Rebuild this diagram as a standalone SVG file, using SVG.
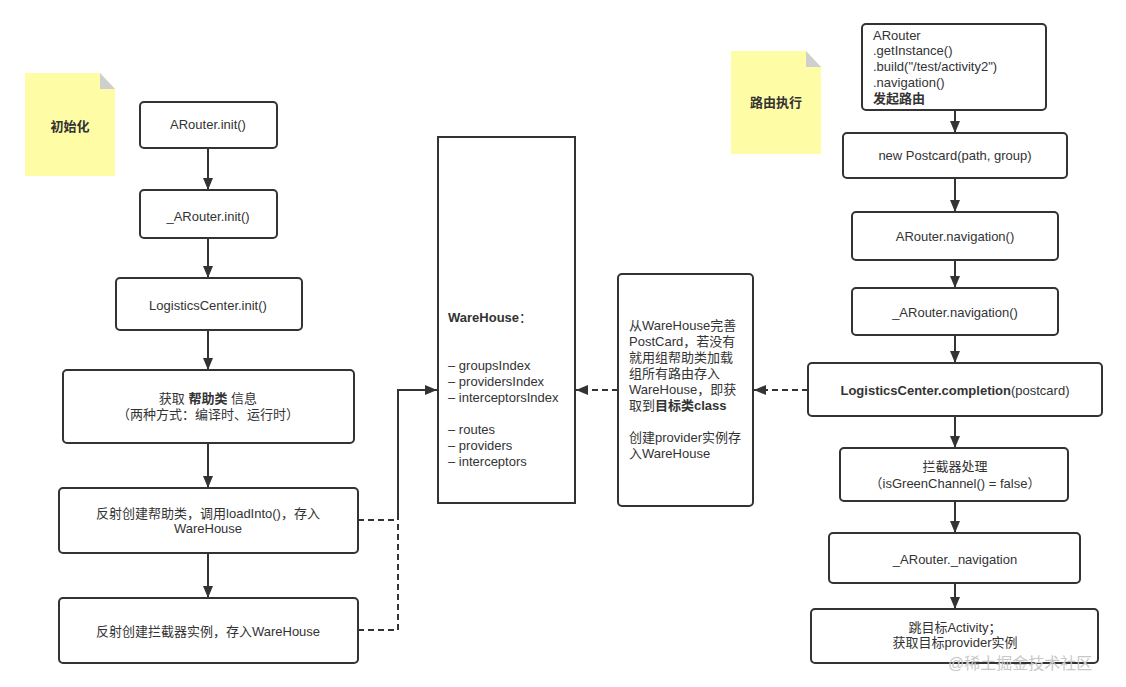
<svg xmlns="http://www.w3.org/2000/svg" width="1126" height="687" viewBox="0 0 1126 687">
<style>
  text{font-family:"Liberation Sans","Noto Sans CJK SC",sans-serif;font-size:13px;fill:#333;}
  .c{text-anchor:middle;}
  .b{font-weight:bold;}
  .box{fill:#fff;stroke:#333;stroke-width:2;}
  .note{fill:#fffca6;}
  .fold{fill:#cfcfcf;}
  .ln{fill:none;stroke:#333;stroke-width:2;}
  .dash{fill:none;stroke:#333;stroke-width:2;stroke-dasharray:6 4;}
  .wm{font-size:16px;fill:#c8c8c8;}
</style>
<defs>
  <marker id="arr" viewBox="0 0 12 12" refX="12" refY="6" markerWidth="12" markerHeight="12" markerUnits="userSpaceOnUse" orient="auto">
    <path d="M0,1 L12,6 L0,11 z" fill="#333"/>
  </marker>
</defs>
<rect width="1126" height="687" fill="#fff"/>

<g id="note-init">
  <path class="note" d="M25,73 H100 L115,89 V176 H25 z"/>
  <path class="fold" d="M100,73 L115,89 H100 z"/>
  <text class="c b" x="70" y="131">初始化</text>
</g>
<g id="note-route">
  <path class="note" d="M731,51 H806 L821,67 V154 H731 z"/>
  <path class="fold" d="M806,51 L821,67 H806 z"/>
  <text class="c b" x="776" y="107">路由执行</text>
</g>

<g id="connectors">
  <path class="ln" marker-end="url(#arr)" d="M208,148 V190"/>
  <path class="ln" marker-end="url(#arr)" d="M208,238 V278"/>
  <path class="ln" marker-end="url(#arr)" d="M208,330 V370"/>
  <path class="ln" marker-end="url(#arr)" d="M208,443 V488"/>
  <path class="ln" marker-end="url(#arr)" d="M208,553 V598"/>
  <path class="dash" d="M358,520 H398"/>
  <path class="dash" d="M358,630 H398 V520"/>
  <path class="ln" marker-end="url(#arr)" d="M398,520 V390 H437"/>
  <path class="dash" marker-end="url(#arr)" d="M618,390 H576"/>
  <path class="dash" marker-end="url(#arr)" d="M808,390 H754"/>
  <path class="ln" marker-end="url(#arr)" d="M955,110 V133"/>
  <path class="ln" marker-end="url(#arr)" d="M955,178 V212"/>
  <path class="ln" marker-end="url(#arr)" d="M955,260 V288"/>
  <path class="ln" marker-end="url(#arr)" d="M955,335 V363"/>
  <path class="ln" marker-end="url(#arr)" d="M955,416 V448"/>
  <path class="ln" marker-end="url(#arr)" d="M955,501 V533"/>
  <path class="ln" marker-end="url(#arr)" d="M955,583 V609"/>
</g>

<g id="arouter-init">
  <rect class="box" x="140" y="102" width="137" height="46" rx="4"/>
  <text class="c" x="208" y="129">ARouter.init()</text>
</g>
<g id="_arouter-init">
  <rect class="box" x="140" y="190" width="137" height="48" rx="4"/>
  <text class="c" x="208" y="221">_ARouter.init()</text>
</g>
<g id="logistics-init">
  <rect class="box" x="116" y="278" width="186" height="52" rx="4"/>
  <text class="c" x="208" y="310">LogisticsCenter.init()</text>
</g>
<g id="get-helper">
  <rect class="box" x="63" y="370" width="291" height="73" rx="4"/>
  <text class="c" x="208" y="403">获取 <tspan class="b">帮助类</tspan> 信息</text>
  <text class="c" x="208" y="419">（两种方式：编译时、运行时）</text>
</g>
<g id="reflect-helper">
  <rect class="box" x="59" y="488" width="299" height="65" rx="4"/>
  <text class="c" x="208" y="518">反射创建帮助类，调用loadInto()，存入</text>
  <text class="c" x="208" y="533">WareHouse</text>
</g>
<g id="reflect-interceptor">
  <rect class="box" x="59" y="598" width="299" height="65" rx="4"/>
  <text class="c" x="208" y="636">反射创建拦截器实例，存入WareHouse</text>
</g>

<g id="warehouse">
  <rect class="box" x="438" y="137" width="137" height="366"/>
  <text class="b" x="448" y="322">WareHouse<tspan font-weight="normal">：</tspan></text>
  <text x="448" y="370">– groupsIndex</text>
  <text x="448" y="386">– providersIndex</text>
  <text x="448" y="402">– interceptorsIndex</text>
  <text x="448" y="434">– routes</text>
  <text x="448" y="450">– providers</text>
  <text x="448" y="466">– interceptors</text>
</g>

<g id="complete-postcard">
  <rect class="box" x="618" y="274" width="135" height="232" rx="4"/>
  <text x="629" y="330">从WareHouse完善</text>
  <text x="629" y="346">PostCard，若没有</text>
  <text x="629" y="362">就用组帮助类加载</text>
  <text x="629" y="378">组所有路由存入</text>
  <text x="629" y="394">WareHouse，即获</text>
  <text x="629" y="410">取到<tspan class="b">目标类class</tspan></text>
  <text x="629" y="442">创建provider实例存</text>
  <text x="629" y="458">入WareHouse</text>
</g>

<g id="start-route">
  <rect class="box" x="862" y="24" width="184" height="86" rx="4"/>
  <text x="873" y="40">ARouter</text>
  <text x="873" y="55">.getInstance()</text>
  <text x="873" y="71">.build("/test/activity2")</text>
  <text x="873" y="87">.navigation()</text>
  <text class="b" x="873" y="103">发起路由</text>
</g>
<g id="new-postcard">
  <rect class="box" x="843" y="133" width="224" height="45" rx="4"/>
  <text class="c" x="955" y="160">new Postcard(path, group)</text>
</g>
<g id="arouter-navigation">
  <rect class="box" x="852" y="212" width="206" height="48" rx="4"/>
  <text class="c" x="955" y="241">ARouter.navigation()</text>
</g>
<g id="_arouter-navigation">
  <rect class="box" x="852" y="288" width="206" height="47" rx="4"/>
  <text class="c" x="955" y="317">_ARouter.navigation()</text>
</g>
<g id="logistics-completion">
  <rect class="box" x="808" y="363" width="294" height="53" rx="4"/>
  <text class="c" x="955" y="395"><tspan class="b">LogisticsCenter.completion</tspan>(postcard)</text>
</g>
<g id="interceptor">
  <rect class="box" x="840" y="448" width="228" height="53" rx="4"/>
  <text class="c" x="955" y="471">拦截器处理</text>
  <text class="c" x="955" y="488">（isGreenChannel() = false）</text>
</g>
<g id="_arouter-_navigation">
  <rect class="box" x="829" y="533" width="251" height="50" rx="4"/>
  <text class="c" x="955" y="564">_ARouter._navigation</text>
</g>
<g id="jump-target">
  <rect class="box" x="811" y="609" width="287" height="54" rx="4"/>
  <text class="c" x="955" y="632">跳目标Activity；</text>
  <text class="c" x="955" y="647">获取目标provider实例</text>
</g>

<text class="wm" x="948" y="669">@稀土掘金技术社区</text>
</svg>
